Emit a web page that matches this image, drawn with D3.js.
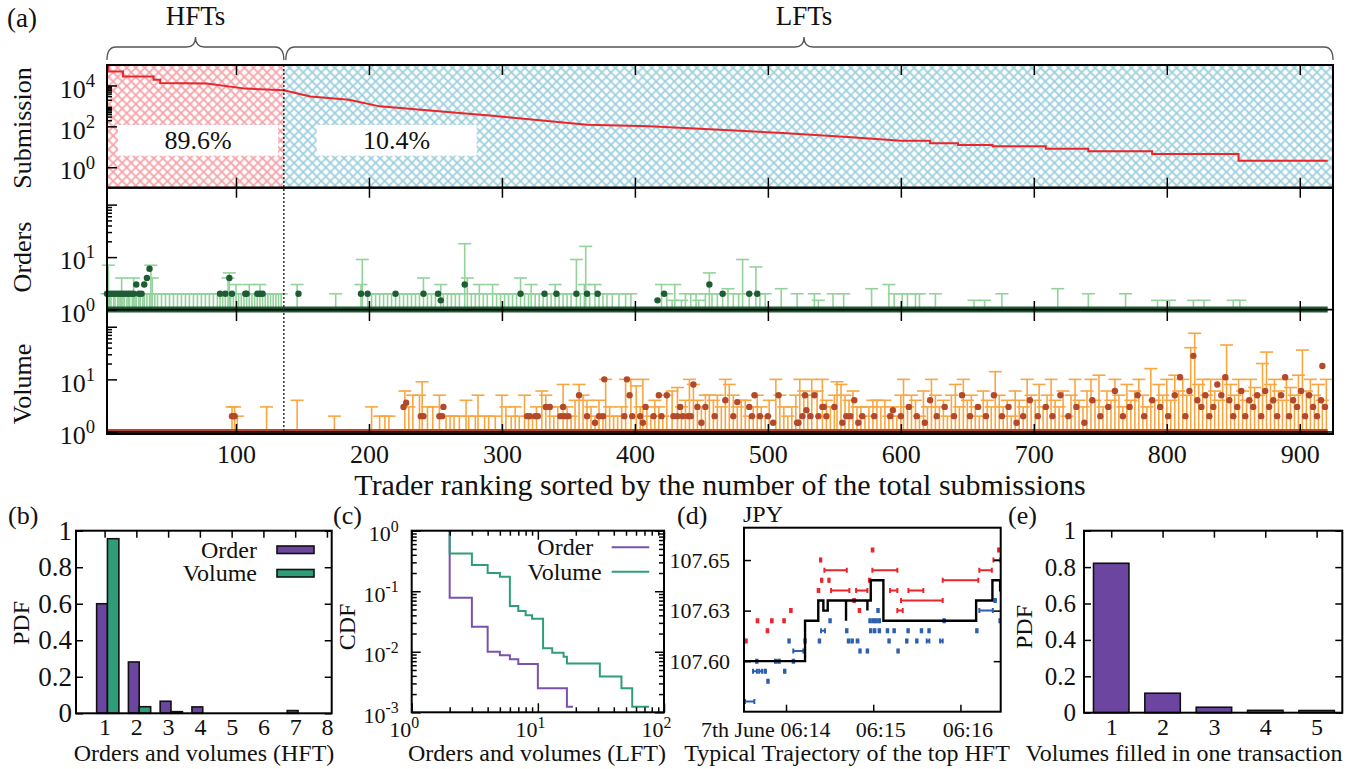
<!DOCTYPE html>
<html>
<head>
<meta charset="utf-8">
<script src="https://cdn.jsdelivr.net/npm/d3@7"></script>
<style>
  body { margin: 0; background: #fff; }
  text { fill: #111; }
</style>
</head>
<body>
<svg id="chart" width="1366" height="769"></svg>
<script>
// ---------------- data: panel (a) ----------------
var hftCut = 136;   // last HFT rank
var subRank  = [3, 4, 4, 15, 15, 38, 38, 43, 43, 78, 107, 136, 156, 185, 208, 268, 293, 364, 411, 460,
                511, 560, 600, 622, 622, 643, 643, 669, 669, 709, 709, 741, 741, 789, 789, 854, 854, 921];
var subCount = [100000, 100000, 48000, 48000, 27500, 27500, 19000, 19000, 13200, 12600, 7000, 5800, 2900, 2000, 950, 450, 330, 120, 100, 71,
                47, 30, 19.5, 19.5, 14.8, 14.8, 12.3, 12.3, 10.5, 10.5, 8.1, 8.1, 6.0, 6.0, 4.5, 4.5, 2.1, 2.1];
var shareLabels = ["89.6%", "10.4%"];

// error bars [rank, upper value] and mean dots [rank, value]
var ordBars = [[4,7],[14,4],[23,4],[36,7],[37,4],[94,4],[95,5],[100,3],[110,3],[118,3],
  [3,2],[5,2],[6,2],[8,2],[9,2],[11,2],[12,2],[13,2],[15,2],[16,2],[18,2],[19,2],[20,2],[22,2],[24,2],[25,2],[27,2],[28,2],[30,2],[31,2],
  [33,2],[35,2],[39,2],[41,2],[44,2],[47,2],[50,2],[53,2],[56,2],[59,2],[62,2],[65,2],[68,2],[71,2],[74,2],[77,2],[80,2],[83,2],[86,2],[88,2],
  [90,2],[92,2],[96,2],[98,2],[102,2],[104,2],[106,2],[108,2],[112,2],[114,2],[116,2],[120,2],[122,2],[124,2],[126,2],[128,2],[130,2],[132,2],[134,2],
  [146,3],[175,2],[194,3],[195,9],[199,2],[202,2],[205,2],[208,2],[211,2],[214,2],[217,2],[220,2],[223,2],[226,2],[229,2],[232,2],[235,2],[238,2],
  [241,4],[244,2],[247,2],[250,2],[254,3],[256,2],[259,2],[262,2],[265,2],[268,2],[272,18],[274,4],[277,2],[280,2],[283,3],[286,2],[289,2],[293,3],
  [296,2],[299,2],[302,2],[305,2],[308,2],[311,2],[314,4],[317,2],[320,2],[322,3],[325,2],[328,2],[331,2],[334,2],[337,2],[340,3],[343,2],[346,2],
  [349,2],[352,2],[356,9],[359,2],[362,3],[363,16],[366,2],[370,3],[373,2],[376,2],[379,2],[383,2],[388,2],[393,2],[397,2],[420,3],[424,2],[428,1.5],
  [430,3],[435,1.5],[438,2],[442,2],[446,2],[448,1.5],[453,2],[456,5],[458,2],[462,2],[466,2],[470,2.5],[474,2],[478,2],[481,9],[486,2],[491,6.5],
  [494,2],[498,2],[510,2.5],[522,2],[535,2],[538,1.5],[549,2],[557,2],[578,2.5],[591,3],[595,2],[601,2],[605,2],[611,2],[614,2],[626,2],[655,1.5],
  [663,1.5],[676,2],[718,2.5],[741,2],[769,2],[793,1.5],[802,1.5],[820,1.5],[828,1.5],[850,1.5],[855,1.5]];
var ordDots = [[3,2],[5,2],[7,2],[9,2],[11,2],[13,2],[15,2],[17,2],[19,2],[21,2],[23,2],[25,3],[27,2],[29,2],[31,3],[33,4],[35,6],
  [88,2],[92,2],[95,4],[97,2],[107,2],[108,2],[116,2],[118,2],[120,2],[147,2],[194,2],[199,2],[220,2],[241,2],[252,2],[254,1.5],
  [272,3],[314,2],[332,2],[341,2],[356,2],[364,2],[372,2],[417,1.5],[422,2],[456,3],[466,2],[486,2],[492,2]];

var volBars = [[97,3],[99,3],[101,2],[123,3],[146,4],[174,2],[202,3],[208,2],[212,2],[215,2],[227,6],[230,3],[233,5],[238,5],[240,9],[244,3],
  [248,3],[253,5],[258,2],[261,2],[264,2],[268,2],[273,4],[275,2],[280,2],[282,5],[287,2],[290,2],[295,2],[300,5],[303,3],[307,2],[310,3],[313,2],
  [317,5],[320,2],[323,2],[326,3],[330,6],[333,5],[336,3],[339,2],[342,3],[346,8],[349,3],[352,2],[355,4],[358,8],[361,5],[364,4],[367,3],[370,2],
  [373,4],[376,2],[378,10],[381,3],[384,2],[387,2],[390,3],[393,10],[397,10],[401,7.5],[404,3],[406,10],[409,3],[412,2],[415,4],[418,3],[421,2],
  [424,5],[428,6],[432,7],[435,3],[438,4],[441,10],[444,8],[447,4],[450,3],[453,5],[456,5],[459,4],[462,5],[465,3],[468,10],[471,8],[474,5],[477,3],
  [480,4],[483,4],[486,2],[489,3],[492,5],[495,3],[498,2],[501,4],[506,10],[509,5],[512,3],[515,2],[518,3],[521,5],[524,10],[527,6],[530,5],[533,10],
  [537,6],[541,10],[544,4],[547,3],[550,5],[552,9],[555,8],[558,5],[561,4],[564,6],[567,3],[570,3],[573,2],[576,3],[579,4],[582,4],[585,3],[588,4],
  [591,2],[594,3],[597,2],[600,5],[602,10],[605,3],[608,5],[611,4],[614,2],[617,6],[620,3],[623,10],[626,5],[629,3],[632,4],[635,2],[638,5],[641,8],
  [644,3],[647,10],[650,4],[653,5],[656,3],[659,2],[662,6],[665,4],[668,3],[671,14],[674,5],[677,3],[680,4],[683,2],[686,6],[689,4],[692,3],[695,10],
  [698,5],[701,4],[704,8],[707,3],[710,5],[713,10],[716,4],[719,3],[722,6],[725,2],[728,5],[731,10],[734,4],[737,3],[740,6],[743,10],[746,4],[749,12],
  [752,3],[755,6],[758,4],[761,10],[764,5],[767,3],[770,8],[773,4],[776,6],[779,10],[782,5],[785,3],[788,16],[791,4],[794,8],[797,5],[800,10],[803,4],
  [806,12],[809,6],[812,10],[815,5],[818,40],[821,75],[824,8],[827,10],[830,5],[833,10],[836,6],[839,4],[842,10],[845,45],[848,8],[851,5],[854,10],
  [857,6],[860,4],[863,10],[866,7],[869,5],[872,20],[875,33],[878,8],[881,10],[884,6],[887,4],[890,10],[893,7],[896,5],[899,12],[902,36],[905,6],
  [908,10],[911,5],[914,8],[917,4],[920,10]];
var volDots = [[97,2],[98,2],[99,2],[226,3],[228,3.6],[239,2],[241,2],[253,2],[255,2],[256,3],[319,2],[321,2],[325,2],[327,2],[333,3],[336,3],
  [344,2],[346,3],[347,2],[350,2],[358,5],[364,2],[370,1.5],[373,2],[376,2],[377,10],[392,2],[394,10],[396,5],[398,2],[404,2],[406,1.5],[408,3],
  [414,2],[418,5],[420,2],[424,5],[429,2],[432,2],[434,3],[436,2],[440,2],[442,2],[444,8],[447,3],[450,1.5],[453,3],[460,2],[468,4],[474,2],
  [477,3.7],[486,3],[488,2],[490,5],[494,2],[500,2],[504,1.5],[508,5],[522,1.5],[523,1.5],[526,2],[528,5],[529,2.6],[532,2],[535,5],[538,2],
  [541,3],[542,3],[544,2],[550,3],[556,1.5],[559,2],[562,2],[565,4],[568,1.5],[571,2],[580,2],[592,2],[594,2.6],[600,2],[606,3],[612,2],[618,1.5],
  [622,4],[627,2],[633,3],[640,2],[646,5],[652,2],[658,3],[664,2],[670,5],[676,2],[681,3],[687,1.5],[692,2],[697,4],[703,2],[709,3],[714,2],
  [720,5],[726,2],[732,3],[738,1.5],[744,4],[750,2],[756,3],[761,6],[767,2],[772,3],[778,5],[783,2],[789,4],[795,3],[801,2],[806,5],[810,11],
  [814,2],[817,6],[820,28],[823,4],[826,3],[829,5],[832,2],[835,3],[838,8],[841,5],[844,11],[847,4],[850,2],[853,3],[856,6],[859,2],[862,4],
  [865,3],[868,5],[871,2],[874,6],[877,3],[880,4],[883,2],[886,5],[889,11],[892,2],[895,4],[898,3],[901,6],[904,2],[907,5],[910,3],[913,2],
  [916,4],[917,18],[919,3]];

var aTicks = [100, 200, 300, 400, 500, 600, 700, 800, 900];
var subTicks = [1, 100, 10000], subExp = ["0", "2", "4"];
var subMinor = [200, 300, 400, 500, 600, 700, 800, 900, 2000, 3000, 4000, 5000, 6000, 7000, 8000, 9000];
var lowTicks = [1, 10, 100], lowExp = ["0", "1", null];
var lowMinor = [20, 30, 40, 50, 60, 70, 80, 90];

// ---------------- data: panel (b) ----------------
var bCats = [1, 2, 3, 4, 5, 6, 7, 8];
var bOrder  = [0.60, 0.281, 0.066, 0.035, 0, 0, 0.015, 0];
var bVolume = [0.956, 0.036, 0.009, 0, 0, 0, 0, 0];
var pdfTicks = [0, 0.2, 0.4, 0.6, 0.8, 1];

// ---------------- data: panel (c) ----------------
var cOrdX = [2, 2, 3, 4, 5, 6, 7, 10, 17, 19];
var cOrdY = [1, 0.078, 0.026, 0.010, 0.0088, 0.0075, 0.0063, 0.0025, 0.00123, 0.00123];
var cVolX = [2, 2, 3, 4, 5, 6, 7, 8, 9, 11, 13, 16, 17, 31, 46, 56, 76];
var cVolY = [1, 0.42, 0.27, 0.20, 0.174, 0.057, 0.047, 0.040, 0.035, 0.0114, 0.0096, 0.0083, 0.0064, 0.0039, 0.0025, 0.00123, 0.00123];
var cYTicks = [1, 0.1, 0.01, 0.001], cYExp = ["0", "-1", "-2", "-3"];
var cXTicks = [1, 10, 100], cXExp = ["0", "1", "2"];
var cYMinor = [0.002,0.003,0.004,0.005,0.006,0.007,0.008,0.009,0.02,0.03,0.04,0.05,0.06,0.07,0.08,0.09,0.2,0.3,0.4,0.5,0.6,0.7,0.8,0.9];
var cXMinor = [2, 3, 4, 5, 6, 7, 8, 9, 20, 30, 40, 50, 60, 70, 80, 90];

// ---------------- data: panel (d) (seconds after 06:14:00, price) ----------------
var dStart = -28.9, dEnd = 147.7;
var dLine = [[-28.9,107.600],[13.1,107.620],[22.2,107.630],[25.7,107.625],[28.7,107.630],[41.3,107.620],[41.3,107.630],
  [56,107.625],[56,107.630],[58.3,107.640],[67,107.620],[130.8,107.630],[142,107.640],[147.3,107.635],[147.7,107.635]];
var dSell = [[-28.2,-27,107.61],[-20.2,-19,107.62],[-13.3,-12.2,107.615],[-10.3,-9.2,107.62],[-1.9,-0.8,107.62],[2.8,3.9,107.625],
  [21.8,22.9,107.635],[23.4,24.3,107.65],[24.1,25,107.64],[26.4,41.8,107.645],[29.1,30,107.64],[31,43.6,107.635],[46.3,47.4,107.63],
  [48.2,56,107.635],[50,51,107.625],[57.1,58,107.64],[59,60.1,107.655],[59.4,76.6,107.645],[71.6,76.6,107.635],[76.6,80.3,107.625],
  [79.1,107.8,107.63],[84.2,94.5,107.635],[107.8,132.3,107.64],[133,141.6,107.645],[142.7,147.3,107.65],[145.9,147,107.655]];
var dBuy = [[-28.2,-21.8,107.58],[-20.6,-19.6,107.60],[-22.7,-20,107.595],[-18.5,-16.5,107.595],[-14.8,-13.8,107.595],[-12.9,-11.9,107.59],
  [-7.6,-6.6,107.60],[-5.3,-4.3,107.60],[-1.4,-0.4,107.595],[1.6,2.6,107.61],[4.6,5.6,107.60],[5,11.9,107.605],[12.6,13.6,107.61],
  [22.5,23.5,107.61],[24.1,26.8,107.615],[29.8,30.8,107.62],[41.3,42.3,107.615],[42.5,43.5,107.61],[45,46,107.61],[48.6,49.8,107.61],
  [50.4,51.4,107.605],[55.5,56.5,107.605],[57.3,58.3,107.62],[59.5,60.5,107.62],[61.5,62.5,107.62],[63.7,64.7,107.62],[57.8,58.8,107.615],
  [60.5,61.5,107.615],[63.7,64.7,107.615],[62.8,63.8,107.625],[69.3,70.3,107.615],[70.4,71.4,107.61],[73.9,74.9,107.615],[76.6,77.6,107.605],
  [82.6,83.6,107.61],[83.5,84.5,107.615],[89.5,90.5,107.61],[92.7,93.7,107.615],[96.8,98.6,107.61],[97.9,98.9,107.615],[106,107.8,107.61],
  [108.3,109.3,107.62],[130.8,131.8,107.615],[133,142.3,107.625],[143.4,144.4,107.63],[146.8,147.5,107.62]];
var dYTicks = [107.600, 107.625, 107.650], dYLabels = ["107.60", "107.63", "107.65"];
var dXTicks = ["06:14:00", "06:15:00", "06:16:00"], dXLabels = ["7th June 06:14", "06:15", "06:16"];

// ---------------- data: panel (e) ----------------
var eCats = [1, 2, 3, 4, 5];
var ePdf = [0.821, 0.107, 0.030, 0.013, 0.012];

// ---------------- helpers ----------------
var serif = '"Liberation Serif", "DejaVu Serif", "Times New Roman", serif';
var svg = d3.select("#chart").attr("font-family", serif);

function supLabel(sel, exp, size) {
  sel.text(null);
  sel.append("tspan").text("10");
  sel.append("tspan").attr("dy", -0.42 * size).attr("font-size", 0.72 * size).text(exp);
}
function tidy(g, size) {
  g.attr("font-family", serif).attr("font-size", size);
  g.select(".domain").remove();
  g.selectAll(".tick line").attr("stroke", "#000").attr("stroke-width", 1.5);
  g.selectAll(".tick text").attr("fill", "#111");
  return g;
}
function frame(x0, y0, x1, y1) {
  svg.append("rect").attr("x", x0).attr("y", y0).attr("width", x1 - x0).attr("height", y1 - y0)
    .attr("fill", "none").attr("stroke", "#000").attr("stroke-width", 2);
}
function label(x, y, txt, size, anchor, rot) {
  var t = svg.append("text").attr("font-size", size).attr("text-anchor", anchor || "middle").text(txt);
  t.attr("transform", "translate(" + x + "," + y + ")" + (rot ? " rotate(-90)" : ""));
  return t;
}

// ---------------- panel (a) ----------------
var ax = d3.scaleLinear().domain([3, 925]).range([107, 1333]);
var ySub = d3.scaleLog().domain([0.1, 1e5]).range([187.7, 65]);
var yOrd = d3.scaleLog().domain([0.94, 210]).range([311, 187.7]);
var yVol = d3.scaleLog().domain([0.916, 199]).range([434, 311]);

var defs = svg.append("defs");
[["hatchR", "#f4a3a9"], ["hatchB", "#9dcfdc"]].forEach(function(p) {
  var pat = defs.append("pattern").attr("id", p[0]).attr("patternUnits", "userSpaceOnUse")
    .attr("width", 6.4).attr("height", 6.4).attr("patternTransform", "rotate(45)");
  pat.append("path").attr("d", "M0,3.2H6.4M3.2,0V6.4").attr("stroke", p[1]).attr("stroke-width", 1.7);
});
svg.append("rect").attr("x", ax(3)).attr("y", ySub(1e5)).attr("width", ax(hftCut) - ax(3))
  .attr("height", ySub(0.1) - ySub(1e5)).attr("fill", "url(#hatchR)");
svg.append("rect").attr("x", ax(hftCut)).attr("y", ySub(1e5)).attr("width", ax(925) - ax(hftCut))
  .attr("height", ySub(0.1) - ySub(1e5)).attr("fill", "url(#hatchB)");

// share boxes
[[198, shareLabels[0]], [396.7, shareLabels[1]]].forEach(function(b) {
  svg.append("rect").attr("x", b[0] - 80).attr("y", 125).attr("width", 160).attr("height", 30.7).attr("fill", "#fff");
  label(b[0], 149, b[1], 26);
});

svg.append("path")
  .attr("d", d3.line().x(function(d, i) { return ax(d); }).y(function(d, i) { return ySub(subCount[i]); })(subRank))
  .attr("fill", "none").attr("stroke", "#e8262b").attr("stroke-width", 2);

// orders / volume panels
function errPanel(bars, dots, y, barCol, dotCol, baseCol) {
  var g = svg.append("g");
  g.selectAll("line.v").data(bars).join("line").attr("class", "v")
    .attr("x1", function(d) { return ax(d[0]); }).attr("x2", function(d) { return ax(d[0]); })
    .attr("y1", y(1)).attr("y2", function(d) { return y(d[1]); })
    .attr("stroke", barCol).attr("stroke-width", 1.6);
  g.selectAll("line.c").data(bars).join("line").attr("class", "c")
    .attr("x1", function(d) { return ax(d[0]) - 6.5; }).attr("x2", function(d) { return ax(d[0]) + 6.5; })
    .attr("y1", function(d) { return y(d[1]); }).attr("y2", function(d) { return y(d[1]); })
    .attr("stroke", barCol).attr("stroke-width", 1.6);
  g.append("line").attr("x1", ax(subRank[0])).attr("x2", ax(subRank[subRank.length - 1]))
    .attr("y1", y(1)).attr("y2", y(1)).attr("stroke", baseCol).attr("stroke-width", 6);
  g.selectAll("circle").data(dots).join("circle")
    .attr("cx", function(d) { return ax(d[0]); }).attr("cy", function(d) { return y(d[1]); })
    .attr("r", 3.2).attr("fill", dotCol);
  g.append("line").attr("x1", 107).attr("x2", 1333).attr("y1", y(1)).attr("y2", y(1))
    .attr("stroke", "#000").attr("stroke-width", 1.6);
}
errPanel(ordBars, ordDots, yOrd, "#93d39b", "#1f5c35", "#1f5c35");
errPanel(volBars, volDots, yVol, "#f9a640", "#b3492b", "#b3492b");

// dotted HFT/LFT split
svg.append("line").attr("x1", ax(hftCut)).attr("x2", ax(hftCut)).attr("y1", 65).attr("y2", 434)
  .attr("stroke", "#222").attr("stroke-width", 1.4).attr("stroke-dasharray", "2,2");

frame(107, 65, 1333, 187.7);
frame(107, 187.7, 1333, 434);

// x axes (a)
function xAxisA(y, down, withLabels) {
  var axis = (down ? d3.axisTop(ax) : d3.axisBottom(ax)).tickValues(aTicks).tickSizeInner(-10).tickSizeOuter(0);
  if (withLabels) axis.tickPadding(11); else axis.tickFormat("");
  tidy(svg.append("g").attr("transform", "translate(0," + y + ")").call(axis), 26);
}
xAxisA(65, true); xAxisA(187.7, false); xAxisA(187.7, true); xAxisA(311, false); xAxisA(311, true); xAxisA(434, false, true);

// y axes (a)
function yAxisA(scale, majors, exps, minors) {
  var g = tidy(svg.append("g").attr("transform", "translate(107,0)")
    .call(d3.axisLeft(scale).tickValues(majors).tickSizeInner(-10).tickSizeOuter(0).tickPadding(12).tickFormat("")), 26);
  g.selectAll(".tick text").attr("dy", "0.45em").each(function(d, i) { if (exps[i] !== null) supLabel(d3.select(this), exps[i], 26); });
  tidy(svg.append("g").attr("transform", "translate(107,0)")
    .call(d3.axisLeft(scale).tickValues(minors).tickSizeInner(-5).tickSizeOuter(0).tickFormat("")), 26);
}
yAxisA(ySub, subTicks, subExp, subMinor);
yAxisA(yOrd, lowTicks, lowExp, lowMinor);
yAxisA(yVol, lowTicks, lowExp, lowMinor);

label(31, 128, "Submission", 26, "middle", true);
label(31, 257, "Orders", 26, "middle", true);
label(31, 384, "Volume", 26, "middle", true);
label(720, 495, "Trader ranking sorted by the number of the total submissions", 30);
label(7, 27, "(a)", 27, "start");
label(195.5, 25, "HFTs", 27);
label(804, 25, "LFTs", 27);

// braces
function brace(x0, x1, xm) {
  var y = 47, r = 9;
  var d = "M" + x0 + "," + (y + 13) + "Q" + x0 + "," + y + " " + (x0 + r) + "," + y +
    "L" + (xm - r) + "," + y + "Q" + xm + "," + y + " " + xm + "," + (y - 10) +
    "Q" + xm + "," + y + " " + (xm + r) + "," + y + "L" + (x1 - r) + "," + y +
    "Q" + x1 + "," + y + " " + x1 + "," + (y + 13);
  svg.append("path").attr("d", d).attr("fill", "none").attr("stroke", "#555").attr("stroke-width", 1.3);
}
brace(ax(3), ax(hftCut), 195.5);
brace(ax(hftCut) + 2, ax(925), 804);

// ---------------- panel (b) ----------------
var bx = d3.scaleLinear().domain([0.1, 8.15]).range([76, 331.7]);
var by = d3.scaleLinear().domain([0, 1]).range([713.3, 530.7]);
var cOrder = "#6c45a0", cVolume = "#2f9e78";
function bars(cats, vals, xs, ys, off0, off1, color) {
  svg.append("g").selectAll("rect").data(cats.filter(function(c, i) { return vals[i] > 0; })).join("rect")
    .attr("x", function(c) { return xs(c + off0); })
    .attr("width", xs(off1) - xs(off0))
    .attr("y", function(c) { return ys(vals[cats.indexOf(c)]); })
    .attr("height", function(c) { return ys(0) - ys(vals[cats.indexOf(c)]); })
    .attr("fill", color).attr("stroke", "#111").attr("stroke-width", 1.6);
}
bars(bCats, bOrder, bx, by, -0.25, 0.09, cOrder);
bars(bCats, bVolume, bx, by, 0.09, 0.45, cVolume);
frame(76, 530.7, 331.7, 713.3);
tidy(svg.append("g").attr("transform", "translate(76,0)")
  .call(d3.axisLeft(by).tickValues(pdfTicks).tickSizeInner(-7).tickSizeOuter(0).tickPadding(4).tickFormat(d3.format("~g"))), 27);
tidy(svg.append("g").attr("transform", "translate(331.7,0)")
  .call(d3.axisRight(by).tickValues(pdfTicks).tickSizeInner(-7).tickSizeOuter(0).tickFormat("")), 27);
tidy(svg.append("g").attr("transform", "translate(0,713.3)")
  .call(d3.axisBottom(bx).tickValues(bCats).tickSize(0).tickPadding(5).tickFormat(d3.format("d"))), 24);
tidy(svg.append("g").attr("transform", "translate(0,530.7)")
  .call(d3.axisTop(bx).tickValues(bCats).tickSizeInner(-7).tickSizeOuter(0).tickFormat("")), 24);
[["Order", cOrder, 549.5], ["Volume", cVolume, 573]].forEach(function(l) {
  label(257, l[2] + 8, l[0], 24, "end");
  svg.append("rect").attr("x", 277).attr("y", l[2] - 3.5).attr("width", 37).attr("height", 7.5)
    .attr("fill", l[1]).attr("stroke", "#111").attr("stroke-width", 1.6);
});
label(8, 524, "(b)", 26, "start");
label(29, 623, "PDF", 24, "middle", true);
label(204, 761, "Orders and volumes (HFT)", 24);

// ---------------- panel (c) ----------------
var cx = d3.scaleLog().domain([1, 100]).range([411.7, 664]);
var cy = d3.scaleLog().domain([0.001, 1]).range([712.3, 530.7]);
svg.append("path").attr("d", d3.line().curve(d3.curveStepAfter)
    .x(function(d) { return cx(d); }).y(function(d, i) { return cy(cOrdY[i]); })(cOrdX))
  .attr("fill", "none").attr("stroke", "#7a52ad").attr("stroke-width", 2);
svg.append("path").attr("d", d3.line().curve(d3.curveStepAfter)
    .x(function(d) { return cx(d); }).y(function(d, i) { return cy(cVolY[i]); })(cVolX))
  .attr("fill", "none").attr("stroke", "#2f9e78").attr("stroke-width", 2);
frame(411.7, 530.7, 664, 712.3);
var gcy = tidy(svg.append("g").attr("transform", "translate(411.7,0)")
  .call(d3.axisLeft(cy).tickValues(cYTicks).tickSizeInner(-9).tickSizeOuter(0).tickPadding(13).tickFormat("")), 22);
gcy.selectAll(".tick text").attr("dy", "0.45em").each(function(d, i) { supLabel(d3.select(this), cYExp[i], 22); });
var gcx = tidy(svg.append("g").attr("transform", "translate(0,712.3)")
  .call(d3.axisBottom(cx).tickValues(cXTicks).tickSizeInner(-9).tickSizeOuter(0).tickPadding(9).tickFormat("")), 22);
gcx.selectAll(".tick text").attr("x", -8).each(function(d, i) { supLabel(d3.select(this), cXExp[i], 22); });
tidy(svg.append("g").attr("transform", "translate(664,0)")
  .call(d3.axisRight(cy).tickValues(cYTicks).tickSizeInner(-9).tickSizeOuter(0).tickFormat("")), 22);
tidy(svg.append("g").attr("transform", "translate(0,530.7)")
  .call(d3.axisTop(cx).tickValues(cXTicks).tickSizeInner(-9).tickSizeOuter(0).tickFormat("")), 22);
[["translate(411.7,0)", d3.axisLeft(cy).tickValues(cYMinor)], ["translate(664,0)", d3.axisRight(cy).tickValues(cYMinor)],
 ["translate(0,712.3)", d3.axisBottom(cx).tickValues(cXMinor)], ["translate(0,530.7)", d3.axisTop(cx).tickValues(cXMinor)]]
  .forEach(function(m) {
    tidy(svg.append("g").attr("transform", m[0]).call(m[1].tickSizeInner(-5).tickSizeOuter(0).tickFormat("")), 22);
  });
[["Order", "#7a52ad", 547.3], ["Volume", "#2f9e78", 571.7]].forEach(function(l) {
  label(l[0] === "Order" ? 593.3 : 601.7, l[2] + 8, l[0], 24, "end");
  svg.append("line").attr("x1", 611.7).attr("x2", 649.3).attr("y1", l[2]).attr("y2", l[2])
    .attr("stroke", l[1]).attr("stroke-width", 2);
});
label(333, 524, "(c)", 26, "start");
label(355, 627, "CDF", 24, "middle", true);
label(537, 761, "Orders and volumes (LFT)", 24);

// ---------------- panel (d) ----------------
var parseT = d3.timeParse("%H:%M:%S");
var t0 = parseT("06:14:00");
function tt(s) { return new Date(t0.getTime() + s * 1000); }
var dx = d3.scaleTime().domain([tt(dStart), tt(dEnd)]).range([744, 1000.7]);
var dy = d3.scaleLinear().domain([107.575, 107.666]).range([711.7, 527.7]);
defs.append("clipPath").attr("id", "clipD").append("rect")
  .attr("x", 744).attr("y", 527.7).attr("width", 256.7).attr("height", 184);
var gd = svg.append("g").attr("clip-path", "url(#clipD)");
function marks(data, color) {
  var g = gd.append("g").attr("stroke", color).attr("stroke-width", 2);
  g.selectAll("line.h").data(data).join("line").attr("class", "h")
    .attr("x1", function(d) { return dx(tt(d[0])); }).attr("x2", function(d) { return dx(tt(d[1])); })
    .attr("y1", function(d) { return dy(d[2]); }).attr("y2", function(d) { return dy(d[2]); });
  g.selectAll("line.a").data(data).join("line").attr("class", "a")
    .attr("x1", function(d) { return dx(tt(d[0])); }).attr("x2", function(d) { return dx(tt(d[0])); })
    .attr("y1", function(d) { return dy(d[2]) - 2.5; }).attr("y2", function(d) { return dy(d[2]) + 2.5; });
  g.selectAll("line.b").data(data).join("line").attr("class", "b")
    .attr("x1", function(d) { return dx(tt(d[1])); }).attr("x2", function(d) { return dx(tt(d[1])); })
    .attr("y1", function(d) { return dy(d[2]) - 2.5; }).attr("y2", function(d) { return dy(d[2]) + 2.5; });
}
marks(dSell, "#e8252a");
marks(dBuy, "#2d5fae");
gd.append("path").attr("d", d3.line().curve(d3.curveStepAfter)
    .x(function(d) { return dx(tt(d[0])); }).y(function(d) { return dy(d[1]); })(dLine))
  .attr("fill", "none").attr("stroke", "#000").attr("stroke-width", 2.4);
frame(744, 527.7, 1000.7, 711.7);
tidy(svg.append("g").attr("transform", "translate(744,0)")
  .call(d3.axisLeft(dy).tickValues(dYTicks).tickSizeInner(-7).tickSizeOuter(0).tickPadding(14)
    .tickFormat(function(d, i) { return dYLabels[i]; })), 22);
tidy(svg.append("g").attr("transform", "translate(1000.7,0)")
  .call(d3.axisRight(dy).tickValues(dYTicks).tickSizeInner(-7).tickSizeOuter(0).tickFormat("")), 22);
var gdx = tidy(svg.append("g").attr("transform", "translate(0,711.7)")
  .call(d3.axisBottom(dx).tickValues(dXTicks.map(parseT)).tickSizeInner(-7).tickSizeOuter(0).tickPadding(9.7)
    .tickFormat(function(d, i) { return dXLabels[i]; })), 22);
gdx.selectAll(".tick text").attr("x", function(d, i) { return i === 0 ? 44 : 7; })
  .attr("text-anchor", function(d, i) { return i === 0 ? "end" : "middle"; });
label(677, 524, "(d)", 26, "start");
label(743, 522, "JPY", 24, "start");
label(847, 761, "Typical Trajectory of the top HFT", 24);

// ---------------- panel (e) ----------------
var ex = d3.scaleLinear().domain([0.47, 5.5]).range([1084, 1342.3]);
var ey = d3.scaleLinear().domain([0, 1]).range([712.7, 530.7]);
bars(eCats, ePdf, ex, ey, -0.345, 0.345, cOrder);
frame(1084, 530.7, 1342.3, 712.7);
tidy(svg.append("g").attr("transform", "translate(1084,0)")
  .call(d3.axisLeft(ey).tickValues(pdfTicks).tickSizeInner(-7).tickSizeOuter(0).tickPadding(8).tickFormat(d3.format("~g"))), 25);
tidy(svg.append("g").attr("transform", "translate(1342.3,0)")
  .call(d3.axisRight(ey).tickValues(pdfTicks).tickSizeInner(-7).tickSizeOuter(0).tickFormat("")), 25);
tidy(svg.append("g").attr("transform", "translate(0,712.7)")
  .call(d3.axisBottom(ex).tickValues(eCats).tickSize(0).tickPadding(5).tickFormat(d3.format("d"))), 24);
tidy(svg.append("g").attr("transform", "translate(0,530.7)")
  .call(d3.axisTop(ex).tickValues(eCats).tickSizeInner(-7).tickSizeOuter(0).tickFormat("")), 25);
label(1008, 524, "(e)", 26, "start");
label(1032, 627, "PDF", 24, "middle", true);
label(1184, 761, "Volumes filled in one transaction", 24);
</script>
</body>
</html>
